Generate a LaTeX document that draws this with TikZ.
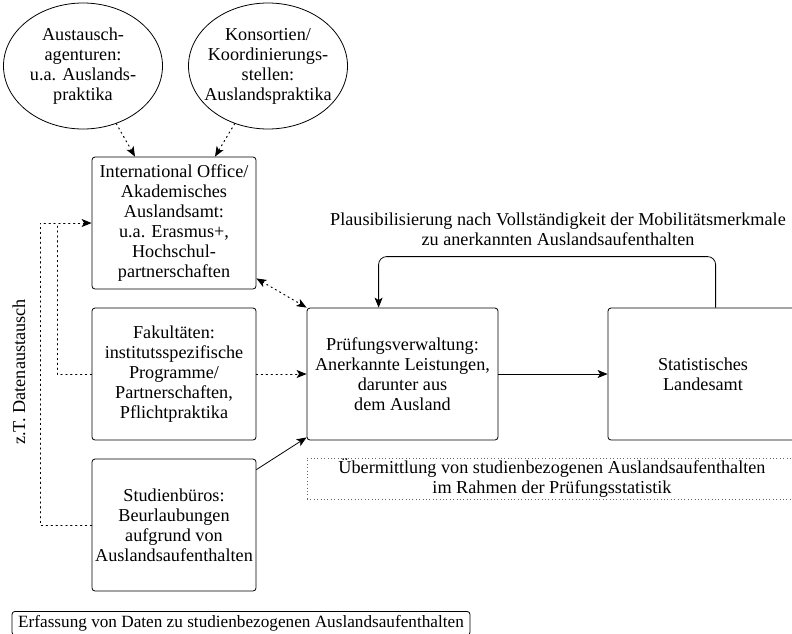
\documentclass[tikz,border=0pt]{standalone}
\usepackage{fontspec}
\setmainfont{Liberation Serif}
\usetikzlibrary{shapes.geometric,arrows.meta}

\tikzset{
    txt/.style={align=center, font=\fontsize{18.2}{20}\selectfont},
    office/.style={txt, draw, rounded corners=3pt, minimum width=164pt, minimum height=132pt, inner sep=0pt},
    stage/.style={txt, draw, rounded corners=3pt, minimum width=191pt, minimum height=132pt, inner sep=0pt},
    agency/.style={draw, ellipse, minimum width=159pt, minimum height=126pt, inner sep=0pt},
    dotline/.style={dash pattern=on 1.3pt off 3.6pt, line width=1pt, line cap=round},
}

\begin{document}
\begin{tikzpicture}[x=1pt, y=-1pt, line width=0.8pt, >={Stealth[length=10pt, width=8pt, inset=2.5pt]}]

    \useasboundingbox (0, 0) rectangle (792, 633);
    \clip (0, 0) rectangle (792, 633);

    % Nodes
    \node at (83, 66) (E1) [agency] {};
    \node at (83, 66) [txt] {Austausch-\\agenturen:\\u.a. Auslands-\\praktika};
    \node at (268, 66) (E2) [agency] {};
    \node at (268, 66) [txt] {Konsortien/\\Koordinierungs-\\stellen:\\Auslandspraktika};

    \node at (174, 223) (IO) [office] {International Office/\\Akademisches\\Auslandsamt:\\u.a. Erasmus+,\\Hochschul-\\partnerschaften};
    \node at (174, 374) (Fak) [office] {Fakultäten:\\institutsspezifische\\Programme/\\Partnerschaften,\\Pflichtpraktika};
    \node at (174, 525) (Stud) [office] {Studienbüros:\\Beurlaubungen\\aufgrund von\\Auslandsaufenthalten};

    \node at (402.5, 374) (Pruef) [stage] {Prüfungsverwaltung:\\Anerkannte Leistungen,\\darunter aus\\dem Ausland};
    \node at (703, 374) (Stat) [stage, minimum width=190pt] {Statistisches\\Landesamt};

    \node at (558, 229) (Plaus) [txt] {Plausibilisierung nach Vollständigkeit der Mobilitätsmerkmale\\zu anerkannten Auslandsaufenthalten};
    \node at (552, 478.5) (Ueber) [txt, draw=black!60, dash pattern=on 0.8pt off 2.6pt, line width=0.6pt, minimum width=490pt, minimum height=41pt, inner sep=0pt] {Übermittlung von studienbezogenen Auslandsaufenthalten\\im Rahmen der Prüfungsstatistik};
    \node at (241, 611) (Erf) [txt, font=\fontsize{17.2}{20}\selectfont, draw, rounded corners=3pt, anchor=north, minimum width=458pt, inner ysep=4pt] {Erfassung von Daten zu studienbezogenen Auslandsaufenthalten};

    \node at (19, 372) (Dat) [txt, rotate=90] {z.T. Datenaustausch};

    \coordinate (lo) at (40, 223);
    \coordinate (li) at (57, 223);

    % Arrows
    \draw[->, dotline] (E1.-60) -- ([xshift=-39pt]IO.north);
    \draw[->, dotline] (E2.-120) -- ([xshift=41pt]IO.north);

    \draw[<->, dotline] ([yshift=11pt]IO.south east) -- (Pruef.north west);
    \draw[->, dotline] (Fak.east) -- (Pruef.west);
    \draw[->] ([yshift=-11pt]Stud.north east) -- ([yshift=3pt]Pruef.south west);

    \draw[->] (Pruef) -- (Stat);
    \draw[->, rounded corners=8pt] ([xshift=108pt]Stat.north west) -- ++(0, -51) -| ([xshift=72pt]Pruef.north west);

    % Left side
    \draw[->, dotline] (Stud.west) -| (lo) -- (IO.west);
    \draw[dotline] (Fak.west) -| (li);

\end{tikzpicture}
\end{document}
